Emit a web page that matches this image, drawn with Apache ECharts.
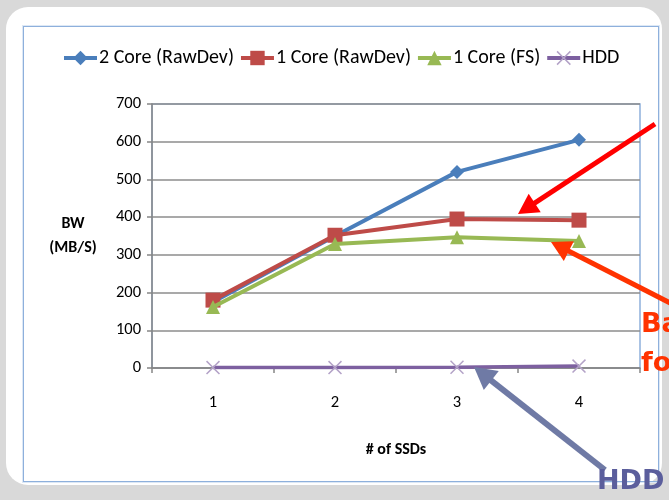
<!DOCTYPE html>
<html>
<head>
<meta charset="utf-8">
<script src="https://cdn.jsdelivr.net/npm/echarts@6/dist/echarts.min.js"></script>
<style>
html,body{margin:0;padding:0;background:#d9d9d9;}
#panel{position:absolute;left:6px;top:7px;width:656px;height:478px;background:#fff;border-radius:22px;}
#frame{position:absolute;left:23px;top:26px;width:634px;height:454px;border:1.5px solid #8eb0dc;box-shadow:0 0 0 1px #dde8f5;}
#chart{position:absolute;left:0;top:0;width:669px;height:500px;}
</style>
</head>
<body>
<div id="panel"></div>
<div id="frame"></div>
<div id="chart"></div>
<script>
const categories = ['1', '2', '3', '4'];
const core2Raw = [175, 350, 520, 605];
const core1Raw = [180, 352, 395, 392];
const core1FS = [162, 329, 347, 337];
const hdd = [1, 1, 2, 5];
const yTicks = [0, 100, 200, 300, 400, 500, 600, 700];

const FONT = 'Carlito, Lato, "Liberation Sans", sans-serif';
const ANN_FONT = '"DejaVu Sans", Verdana, sans-serif';
const xPath = 'path://M1.5,0L10,8.5L18.5,0L20,1.5L11.5,10L20,18.5L18.5,20L10,11.5L1.5,20L0,18.5L8.5,10L0,1.5Z';

function arrow(x1, y1, x2, y2, color, w, head) {
  const dx = x2 - x1, dy = y2 - y1;
  const len = Math.sqrt(dx * dx + dy * dy);
  const ux = dx / len, uy = dy / len;
  const bx = x2 - ux * head, by = y2 - uy * head;
  const px = -uy, py = ux;
  const hw = head * 0.55;
  return [
    {type: 'line', z: 100, shape: {x1: x1, y1: y1, x2: bx + ux * 2, y2: by + uy * 2},
     style: {stroke: color, lineWidth: w}},
    {type: 'polygon', z: 100, shape: {points: [[x2, y2], [bx + px * hw, by + py * hw], [bx - px * hw, by - py * hw]]},
     style: {fill: color}}
  ];
}

const chart = echarts.init(document.getElementById('chart'), null, {renderer: 'canvas'});
const option = {
  backgroundColor: 'transparent',
  animation: false,
  textStyle: {fontFamily: FONT},
  legend: {
    left: 62, top: 48, padding: 0,
    itemWidth: 33, itemHeight: 18, itemGap: 5,
    lineStyle: {width: 4},
    textStyle: {fontFamily: FONT, fontSize: 20, color: '#000', padding: [0, 0, 0, -3]},
    data: ['2 Core (RawDev)', '1 Core (RawDev)', '1 Core (FS)', 'HDD']
  },
  grid: {left: 152, right: 29, top: 104, bottom: 132, show: true, borderColor: '#8eb0dc', borderWidth: 1.5, backgroundColor: 'transparent'},
  xAxis: {
    type: 'category', data: categories, boundaryGap: true,
    axisLine: {lineStyle: {color: '#868686', width: 1.5}},
    axisTick: {show: true, length: 5, lineStyle: {color: '#868686', width: 1.5}},
    axisLabel: {fontFamily: FONT, fontSize: 16.5, color: '#000', margin: 26},
    name: '# of SSDs', nameLocation: 'middle', nameGap: 74,
    nameTextStyle: {fontFamily: FONT, fontSize: 16, fontWeight: 'bold', color: '#000'}
  },
  yAxis: {
    type: 'value', min: yTicks[0], max: yTicks[yTicks.length - 1], interval: 100,
    axisLine: {show: true, lineStyle: {color: '#868686', width: 1.5}},
    axisTick: {show: true, length: 5, lineStyle: {color: '#868686', width: 1.5}},
    splitLine: {lineStyle: {color: '#8c8c8c', width: 1.5}},
    axisLabel: {fontFamily: FONT, fontSize: 16.5, color: '#000', margin: 11},
    name: 'BW\n(MB/S)', nameLocation: 'middle', nameRotate: 0, nameGap: 79,
    nameTextStyle: {fontFamily: FONT, fontSize: 16, fontWeight: 'bold', color: '#000', align: 'center', lineHeight: 24}
  },
  series: [
    {name: '2 Core (RawDev)', type: 'line', data: core2Raw, symbol: 'diamond', symbolSize: 14,
     lineStyle: {color: '#4a7ebb', width: 4}, itemStyle: {color: '#4a7ebb'}, z: 2},
    {name: '1 Core (RawDev)', type: 'line', data: core1Raw, symbol: 'rect', symbolSize: 15,
     lineStyle: {color: '#be4b48', width: 4}, itemStyle: {color: '#be4b48'}, z: 3},
    {name: '1 Core (FS)', type: 'line', data: core1FS, symbol: 'triangle', symbolSize: 14,
     lineStyle: {color: '#98b954', width: 4}, itemStyle: {color: '#98b954'}, z: 4},
    {name: 'HDD', type: 'line', data: hdd, symbol: xPath, symbolSize: 14,
     lineStyle: {color: '#7d60a0', width: 3.5}, itemStyle: {color: '#b3a2c7'}, z: 5}
  ],
  graphic: [].concat(
    arrow(655, 124, 518, 214, '#ff0000', 5, 20),
    arrow(680, 308, 551, 242, '#ff3300', 5, 20),
    arrow(605, 470, 474, 367, '#6f7aa5', 6, 22),
    [
      {type: 'text', z: 100, x: 641, y: 338, style: {text: 'Ba', fill: '#ff3300', font: 'bold 27px ' + ANN_FONT, textBaseline: 'alphabetic', verticalAlign: 'bottom'}},
      {type: 'text', z: 100, x: 641, y: 377, style: {text: 'fo', fill: '#ff3300', font: 'bold 27px ' + ANN_FONT, textBaseline: 'alphabetic', verticalAlign: 'bottom'}},
      {type: 'text', z: 100, x: 597, y: 495, style: {text: 'HDD', fill: '#5b5e9c', font: 'bold 27px ' + ANN_FONT, textBaseline: 'alphabetic', verticalAlign: 'bottom'}}
    ]
  )
};
chart.setOption(option);
</script>
</body>
</html>
